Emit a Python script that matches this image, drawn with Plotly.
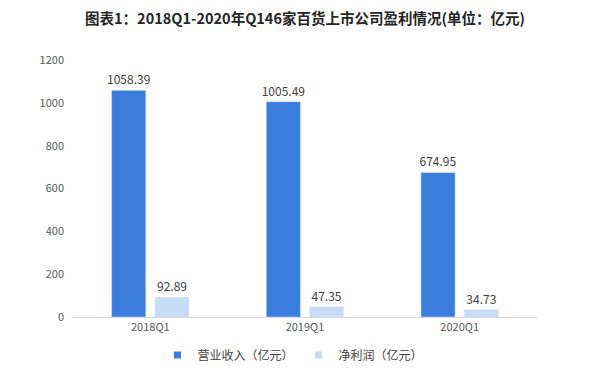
import plotly.graph_objects as go

categories = ["2018Q1", "2019Q1", "2020Q1"]
revenue = [1058.39, 1005.49, 674.95]
profit = [92.89, 47.35, 34.73]
y_ticks = [0, 200, 400, 600, 800, 1000, 1200]
series_names = ["营业收入（亿元）", "净利润（亿元）"]
series_colors = ["#3a7ddd", "#c6dcf6"]

font_family = "Microsoft YaHei, Noto Sans CJK SC, sans-serif"

# page body has an 8px default margin, so the figure is drawn 8px smaller
W, H = 592, 371

fig = go.Figure()
for vals, name, color in zip([revenue, profit], series_names, series_colors):
    fig.add_trace(go.Bar(
        x=categories, y=vals, name=name, showlegend=False,
        marker=dict(color=color),
        text=[f"{v:.2f}" for v in vals], textposition="outside",
        constraintext="none",
        textfont=dict(size=12, color="#404040"), cliponaxis=False,
    ))
for name, color in zip(series_names, series_colors):
    fig.add_trace(go.Scatter(
        x=[None], y=[None], mode="markers", name=name,
        marker=dict(symbol="square", size=7, color=color),
    ))

fig.update_layout(
    width=W, height=H,
    margin=dict(l=65, r=63, t=52, b=62, autoexpand=False),
    paper_bgcolor="white", plot_bgcolor="white",
    font=dict(family=font_family, color="#595959", size=11),
    barmode="group", bargap=0.44, bargroupgap=0.21,
    title=dict(
        text="<b>图表1：2018Q1-2020年Q146家百货上市公司盈利情况(单位：亿元)</b>",
        x=0.5, xref="paper", xanchor="center",
        y=1 - 6 / H, yref="container", yanchor="top",
        font=dict(size=14.5, color="#262626", family=font_family),
    ),
    legend=dict(orientation="h", x=285 / W, xanchor="center", xref="container",
                y=(H - 347) / H, yanchor="middle", yref="container",
                font=dict(size=12, color="#404040"), itemwidth=30),
    showlegend=True,
)
fig.update_xaxes(showline=True, linecolor="#d9d9d9", linewidth=1, ticks="",
                 tickfont=dict(size=11, color="#595959"))
fig.update_yaxes(range=[0, 1200], tickvals=y_ticks, showgrid=False, zeroline=False,
                 showline=False, tickfont=dict(size=11, color="#595959"), ticklabelstandoff=8)

fig.write_html("out.html")
